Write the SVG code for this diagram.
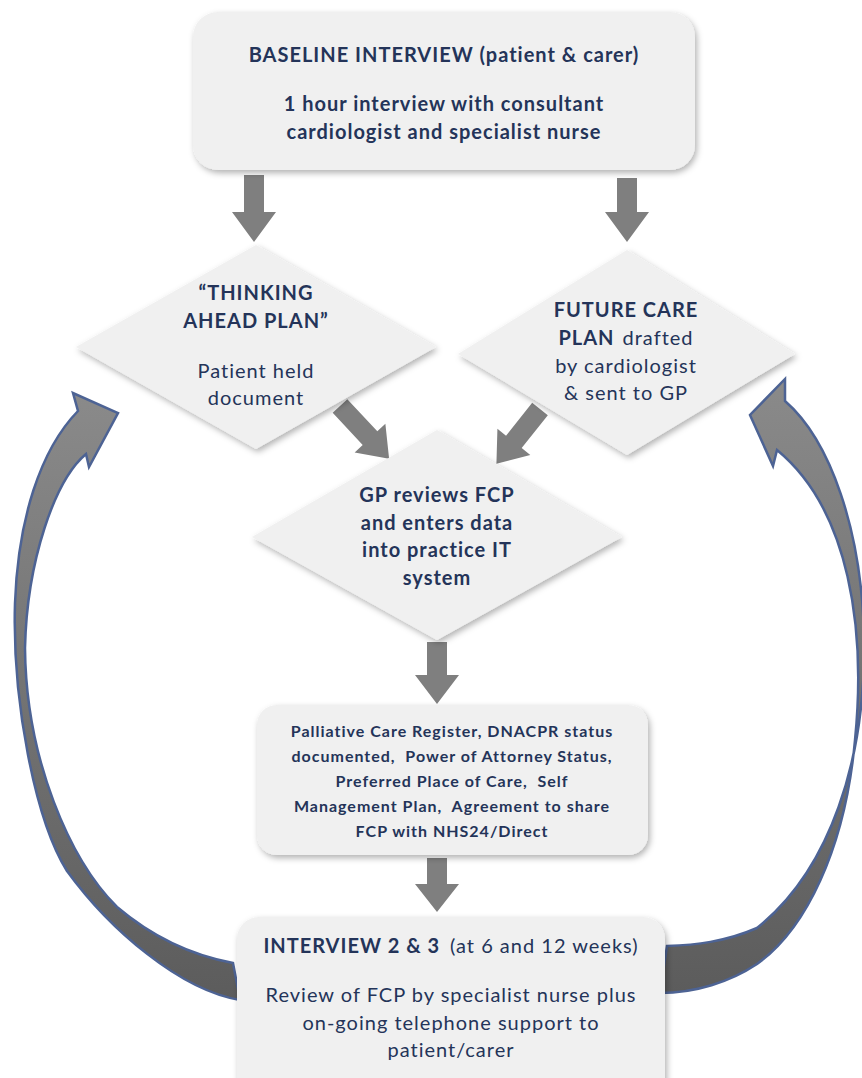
<svg xmlns="http://www.w3.org/2000/svg" width="862" height="1078" viewBox="0 0 862 1078">
<style>
.box{fill:#f0f0f0;filter:url(#sh);}
.t{font-family:Lato,"Liberation Sans",sans-serif;fill:#243459;text-anchor:middle;letter-spacing:1px;}
.b{font-weight:bold;}
.arr{fill:#7f7f7f;}
.curve{fill:url(#cg);stroke:#4d6394;stroke-width:2.5;stroke-linejoin:miter;}
</style>
<defs>
<filter id="sh" x="-10%" y="-10%" width="125%" height="130%">
<feDropShadow dx="2" dy="3" stdDeviation="3" flood-color="#000" flood-opacity="0.3"/>
</filter>
<linearGradient id="cg" x1="0" y1="0" x2="0" y2="1">
<stop offset="0" stop-color="#8a8a8a"/>
<stop offset="1" stop-color="#5c5c5c"/>
</linearGradient>
</defs>
<g id="connectors">
<polygon class="arr" points="244,175 264,175 264,212 276,212 254,242 232,212 244,212"/>
<polygon class="arr" points="617,178 637,178 637,212 649,212 627,242 605,212 617,212"/>
<polygon class="arr" transform="translate(340,406) rotate(47)" points="0,-10 44,-10 44,-21 72,0 44,21 44,10 0,10"/>
<polygon class="arr" transform="translate(540,409) rotate(128.5)" points="0,-10 42,-10 42,-21 70,0 42,21 42,10 0,10"/>
<polygon class="arr" points="427,642 447,642 447,675 459,675 437,704 415,675 427,675"/>
<polygon class="arr" points="427,858 447,858 447,884 459,884 437,912 415,884 427,884"/>
<path class="curve" d="M240,1000 C180,990 110,930 67,871 C35,820 12,700 15,603 C18,520 40,450 78,411 L73,393 L118,413 L89,467 L86,454 C55,480 27,560 25,648 C26,760 70,860 117,907 C150,935 190,955 233,963 Z"/>
<path class="curve" d="M785,401 C830,440 862,530 864,638 C866,760 830,870 757,928 C725,942 695,945 667,946 L660,993 C695,993 730,982 757,964 C805,930 845,850 855,740 C866,630 850,510 777,450 L773,466 L750,415 L785,379 Z"/>
</g>
<g id="baseline">
<rect class="box" x="193" y="12" width="502" height="158" rx="25"/>
<text class="t b" x="444" y="62" font-size="20">BASELINE INTERVIEW (patient &amp; carer)</text>
<text class="t b" x="444" y="111" font-size="20">1 hour interview with consultant</text>
<text class="t b" x="444" y="139" font-size="20">cardiologist and specialist nurse</text>
</g>
<g id="thinking">
<polygon class="box" points="76,347 256,245 436,347 256,449"/>
<text class="t b" x="256" y="300" font-size="20">“THINKING</text>
<text class="t b" x="256" y="328" font-size="20">AHEAD PLAN”</text>
<text class="t" x="256" y="378" font-size="20">Patient held</text>
<text class="t" x="256" y="405" font-size="20">document</text>
</g>
<g id="future">
<polygon class="box" points="458,354 627,250 795,354 627,455"/>
<text class="t b" x="626" y="317" font-size="20">FUTURE CARE</text>
<text class="t" x="626" y="345" font-size="20"><tspan class="b">PLAN</tspan><tspan dx="8">drafted</tspan></text>
<text class="t" x="626" y="373" font-size="20">by cardiologist</text>
<text class="t" x="626" y="400" font-size="20">&amp; sent to GP</text>
</g>
<g id="gp">
<polygon class="box" points="252,537 437,430 622,537 437,640"/>
<text class="t b" x="437" y="502" font-size="20">GP reviews FCP</text>
<text class="t b" x="437" y="530" font-size="20">and enters data</text>
<text class="t b" x="437" y="557" font-size="20">into practice IT</text>
<text class="t b" x="437" y="585" font-size="20">system</text>
</g>
<g id="register">
<rect class="box" x="257" y="705" width="391" height="150" rx="20"/>
<text class="t b" x="452" y="737" font-size="16">Palliative Care Register, DNACPR status</text>
<text class="t b" x="452" y="762" font-size="16" xml:space="preserve">documented,  Power of Attorney Status,</text>
<text class="t b" x="452" y="787" font-size="16" xml:space="preserve">Preferred Place of Care,  Self</text>
<text class="t b" x="452" y="812" font-size="16" xml:space="preserve">Management Plan,  Agreement to share</text>
<text class="t b" x="452" y="837" font-size="16">FCP with NHS24/Direct</text>
</g>
<g id="interview23">
<rect class="box" x="237" y="917" width="428" height="185" rx="22"/>
<text class="t" x="451" y="953" font-size="20"><tspan class="b">INTERVIEW 2 &amp; 3</tspan><tspan dx="10">(at 6 and 12 weeks)</tspan></text>
<text class="t" x="451" y="1002" font-size="20">Review of FCP by specialist nurse plus</text>
<text class="t" x="451" y="1030" font-size="20">on-going telephone support to</text>
<text class="t" x="451" y="1057" font-size="20">patient/carer</text>
</g>
</svg>
